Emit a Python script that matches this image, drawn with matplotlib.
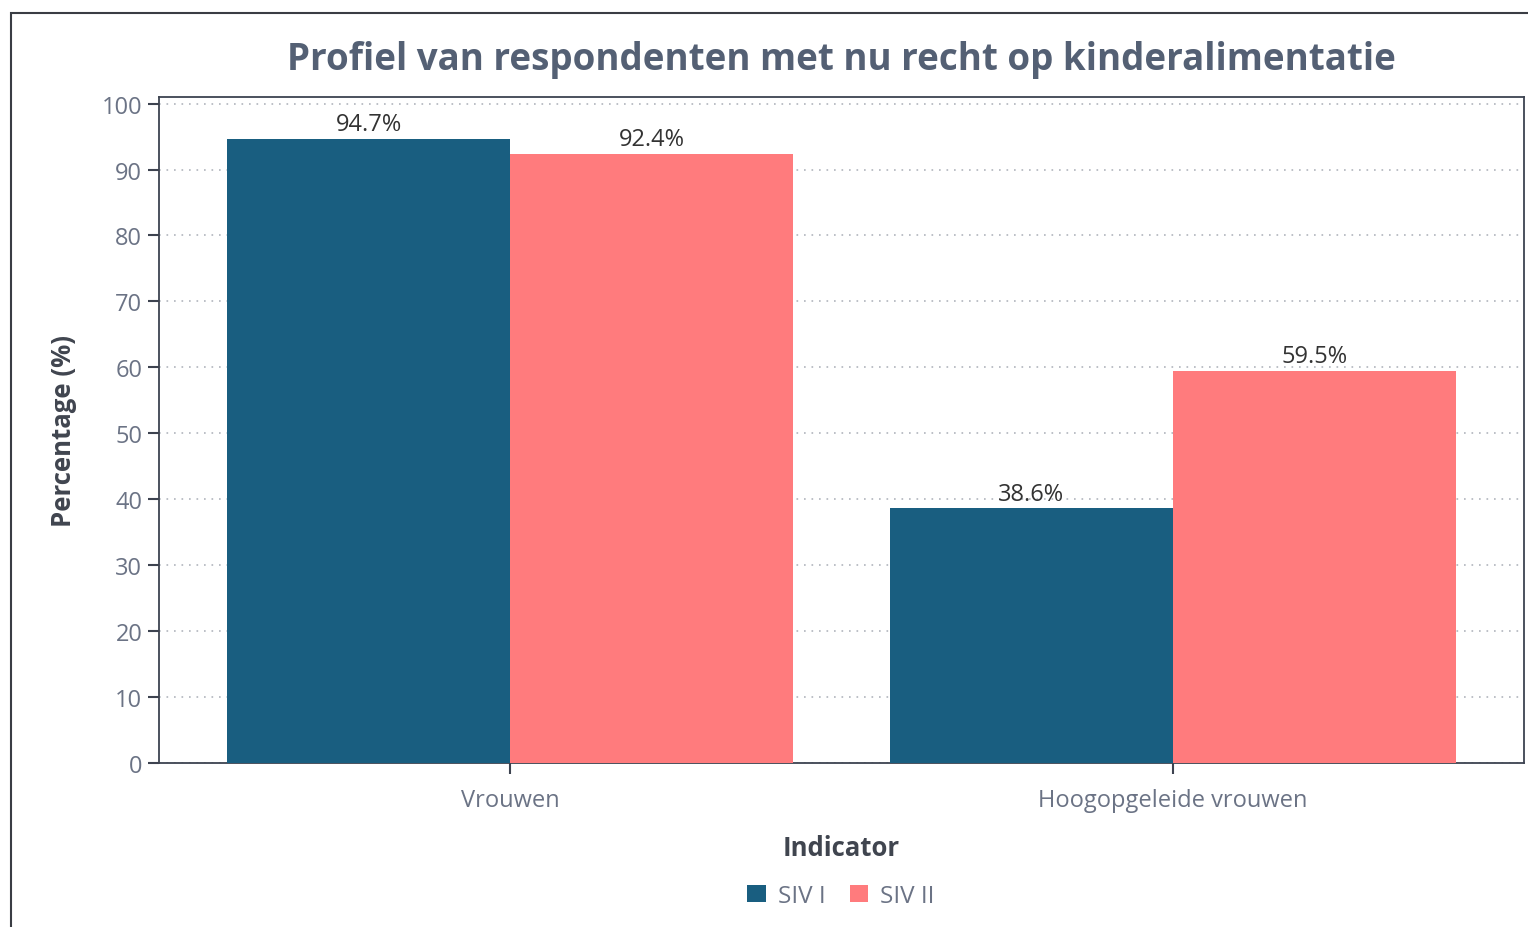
import matplotlib.pyplot as plt
import numpy as np
from matplotlib.patches import Rectangle

# data
categories = ["Vrouwen", "Hoogopgeleide vrouwen"]
series_names = ["SIV I", "SIV II"]
siv1 = [94.7, 38.6]
siv2 = [92.4, 59.5]
yticks = [0, 10, 20, 30, 40, 50, 60, 70, 80, 90, 100]

colors = ["#195e80", "#ff7b7d"]
text_gray = "#6b7385"
dark = "#3d4350"

plt.rcParams['font.family'] = ['Open Sans', 'DejaVu Sans']

fig = plt.figure(figsize=(15.28, 9.28), dpi=100)
ax = fig.add_axes([159 / 1528, 1 - 764 / 928, (1524 - 159) / 1528, (764 - 98) / 928])

x = np.arange(len(categories))
w = 0.427
b1 = ax.bar(x - w / 2, siv1, w, color=colors[0], label=series_names[0], zorder=3)
b2 = ax.bar(x + w / 2, siv2, w, color=colors[1], label=series_names[1], zorder=3)

for bars, vals in [(b1, siv1), (b2, siv2)]:
    for r, v in zip(bars, vals):
        ax.annotate(f"{v:.1f}%", (r.get_x() + r.get_width() / 2, v),
                    xytext=(0, 2), textcoords="offset points",
                    ha="center", va="bottom", fontsize=17, color="#333333", zorder=4)

ax.set_xlim(-0.53, 1.53)
ax.set_ylim(0, 101)
ax.set_yticks(yticks)
ax.set_xticks(x)
ax.set_xticklabels(categories)
ax.grid(axis="y", linestyle=(0, (1, 3.5)), color="#b0b4bc", linewidth=1.2, zorder=0)
for s in ax.spines.values():
    s.set_color(dark)
    s.set_linewidth(1.3)
ax.tick_params(axis="both", colors=dark, length=8, width=1.5, labelsize=17,
               labelcolor=text_gray, pad=4)
ax.tick_params(axis="x", pad=10)

ax.set_title("Profiel van respondenten met nu recht op kinderalimentatie",
             fontsize=26.5, fontweight="bold", color="#546074", pad=20)
ax.set_xlabel("Indicator", fontsize=18.5, fontweight="bold", color="#40454f", labelpad=16)
ax.set_ylabel("Percentage (%)", fontsize=18.5, fontweight="bold", color="#40454f", labelpad=18)

fig.legend(loc="center", bbox_to_anchor=(841 / 1528, 1 - 897 / 928), ncol=2, frameon=False,
           fontsize=17.5, labelcolor=text_gray, handlelength=0.75, handleheight=0.75,
           handletextpad=0.5, columnspacing=1.0)

# outer frame of the screenshot
fig.patches.append(Rectangle((11 / 1528, -0.1), 1.2, 1.1 - 14 / 928, transform=fig.transFigure,
                             fill=False, edgecolor="#3a3d44", linewidth=1.5))

plt.savefig("out.png", dpi=100)
